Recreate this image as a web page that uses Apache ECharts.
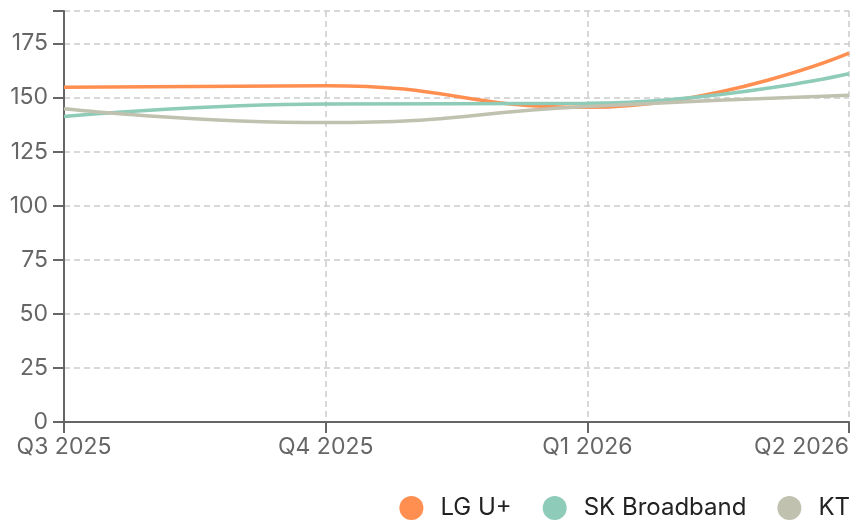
<!DOCTYPE html>
<html>
<head>
<meta charset="utf-8">
<script src="https://cdn.jsdelivr.net/npm/echarts@6/dist/echarts.min.js"></script>
<style>
  html, body { margin: 0; padding: 0; background: #fff; }
  #chart { width: 866px; height: 522px; }
</style>
</head>
<body>
<div id="chart"></div>
<script>
// 数据
const quarters = ['Q3 2025', 'Q4 2025', 'Q1 2026', 'Q2 2026']
const lgValues = [154.8, 155.5, 145.5, 170.5]
const skValues = [141.2, 147.0, 147.3, 161.0]
const ktValues = [144.8, 138.4, 145.8, 151.0]

const axisColor = '#666'
const font = 'Inter, "Noto Sans", sans-serif'

const myChart = echarts.init(document.getElementById('chart'))

const makeSeries = (name, data, color) => ({
  name: name,
  type: 'line',
  data: data,
  smooth: true,
  symbol: 'none',
  lineStyle: { width: 3.5, color: color },
  itemStyle: { color: color }
})

const option = {
  animation: false,
  grid: { left: 64, right: 17, top: 11, bottom: 100, outerBoundsMode: 'none' },
  legend: {
    right: 11,
    bottom: -3,
    icon: 'circle',
    itemWidth: 24,
    itemHeight: 24,
    itemGap: 31,
    textStyle: { fontSize: 24, color: '#222', fontFamily: font, padding: [0, 0, 0, 12] },
    data: ['LG U+', 'SK Broadband', 'KT']
  },
  xAxis: {
    type: 'category',
    data: quarters,
    boundaryGap: false,
    axisLine: { lineStyle: { color: axisColor, width: 2 } },
    axisTick: { length: 11, lineStyle: { color: axisColor, width: 2 } },
    axisLabel: {
      fontSize: 23, color: axisColor, fontFamily: font, margin: 14,
      alignMaxLabel: 'right'
    },
    splitLine: { show: true, lineStyle: { type: [6, 4], color: '#ccc', width: 1.5 } }
  },
  yAxis: {
    type: 'value',
    min: 0,
    max: 190,
    interval: 25,
    axisLine: { show: true, lineStyle: { color: axisColor, width: 2 } },
    axisTick: { show: true, length: 11, lineStyle: { color: axisColor, width: 2 } },
    axisLabel: {
      fontSize: 23,
      color: axisColor,
      fontFamily: font,
      margin: 16,
      formatter: (v) => (v % 25 === 0 ? v : '')
    },
    splitLine: { show: true, lineStyle: { type: [6, 4], color: '#ccc', width: 1.5 } }
  },
  series: [
    makeSeries('LG U+', lgValues, '#FF8F50'),
    makeSeries('SK Broadband', skValues, '#8ECBB8'),
    makeSeries('KT', ktValues, '#C0C2AF')
  ]
}

myChart.setOption(option)
</script>
</body>
</html>
